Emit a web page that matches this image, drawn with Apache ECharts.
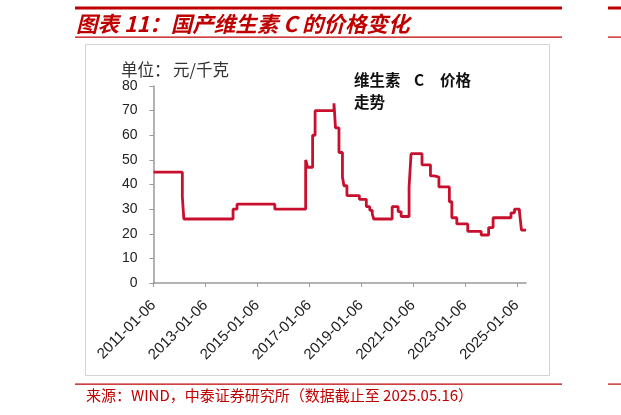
<!DOCTYPE html>
<html>
<head>
<meta charset="utf-8">
<script src="https://cdn.jsdelivr.net/npm/echarts@6/dist/echarts.min.js"></script>
<style>
  html, body { margin:0; padding:0; background:#fff; }
  #myChart { width:621px; height:415px; }
</style>
</head>
<body>
<div id="myChart"></div>
<script>
// 价格变化点（每个日期开始的新价格，元/千克）
var priceDates = [
    '2011-01-06','2012-02-16','2012-03-08','2014-01-30','2014-03-27','2015-09-10',
    '2016-11-17','2016-12-15','2017-02-23','2017-03-30','2017-12-21','2018-01-11',
    '2018-03-01','2018-04-19','2018-05-10','2018-06-21','2018-12-13','2019-03-21',
    '2019-05-09','2019-06-13','2019-07-04','2020-03-19','2020-06-11','2020-07-23',
    '2020-11-12','2020-12-10','2021-05-13','2021-09-09','2021-11-04','2022-01-06',
    '2022-06-02','2022-07-07','2022-09-15','2023-02-16','2023-08-24','2023-12-07',
    '2024-02-08','2024-10-17','2024-12-05','2025-02-13','2025-03-13','2025-05-16'
];
var priceValues = [
    45, 35, 26, 30, 32, 30,
    50, 47, 60, 70, 73, 63,
    53, 43, 39.5, 35.5, 34, 31,
    29.5, 28, 26, 31, 29, 27,
    39, 52.5, 48, 43.5, 43, 39,
    33, 26.5, 24, 21, 19.5, 22.5,
    26.5, 28.5, 30, 29, 21.5, 21.5
];
var tickDates = ['2011-01-06','2013-01-06','2015-01-06','2017-01-06','2019-01-06','2021-01-06','2023-01-06','2025-01-06'];

function localTs(s){
    var p = s.split('-');
    return new Date(+p[0], +p[1]-1, +p[2]).getTime();
}
function fmtDate(v){
    var d = new Date(v);
    var m = d.getMonth()+1, day = d.getDate();
    return d.getFullYear() + '-' + (m<10?'0':'') + m + '-' + (day<10?'0':'') + day;
}
var tickValues = tickDates.map(localTs);
var seriesData = priceDates.map(function(d, i){ return [localTs(d), priceValues[i]]; });

var myChart = echarts.init(document.getElementById('myChart'));
var red = '#c00000';
var cjk = '"Noto Sans CJK SC", sans-serif';
var option = {
    backgroundColor:'#fff',
    animation:false,
    graphic:[
        //------------------页眉
        {type:'rect', shape:{x:75, y:6.5, width:487, height:3}, style:{fill:red}},
        {type:'rect', shape:{x:75, y:36.5, width:487, height:1.2}, style:{fill:red}},
        {type:'rect', shape:{x:608, y:6.5, width:13, height:3}, style:{fill:red}},
        {type:'rect', shape:{x:608, y:36.5, width:13, height:1.2}, style:{fill:red}},
        {type:'text', x:76, y:24, style:{text:'图表 11：国产维生素 C 的价格变化', fill:red,
            font:'italic bold 21.5px ' + cjk, textVerticalAlign:'middle'}},
        //------------------图框
        {type:'rect', shape:{x:85.5, y:44.5, width:464, height:331}, style:{fill:'none', stroke:'#d4d4d4', lineWidth:1}},
        {type:'text', x:121, y:70, style:{text:'单位：', fill:'#333', font:'16.5px ' + cjk, textVerticalAlign:'middle'}},
        {type:'text', x:173, y:70, style:{text:'元/千克', fill:'#333', font:'16.5px ' + cjk, textVerticalAlign:'middle'}},
        {type:'text', x:354, y:80, style:{text:'维生素', fill:'#111', font:'bold 15.5px ' + cjk, textVerticalAlign:'middle'}},
        {type:'text', x:414, y:80, style:{text:'C', fill:'#111', font:'bold 15.5px ' + cjk, textVerticalAlign:'middle'}},
        {type:'text', x:440, y:80, style:{text:'价格', fill:'#111', font:'bold 15.5px ' + cjk, textVerticalAlign:'middle'}},
        {type:'text', x:354, y:102, style:{text:'走势', fill:'#111', font:'bold 15.5px ' + cjk, textVerticalAlign:'middle'}},
        //------------------页脚
        {type:'rect', shape:{x:75, y:383.5, width:487, height:1.2}, style:{fill:red}},
        {type:'rect', shape:{x:608, y:383.5, width:13, height:1.2}, style:{fill:red}},
        {type:'text', x:86, y:395, style:{text:'来源：WIND，中泰证券研究所（数据截止至 2025.05.16）', fill:red,
            font:'15px ' + cjk, textVerticalAlign:'middle'}}
    ],
    grid:{left:153.5, right:95, top:86, bottom:132, containLabel:false},
    xAxis:{
        type:'value',
        min:localTs('2011-01-06'),
        max:localTs('2025-05-16'),
        axisLine:{lineStyle:{color:'#999', width:1.5}},
        axisTick:{show:true, length:4, customValues:tickValues, lineStyle:{color:'#999'}},
        axisLabel:{
            customValues:tickValues,
            rotate:45,
            margin:20,
            color:'#222',
            fontSize:15,
            fontFamily:'Arial, "Liberation Sans", sans-serif',
            formatter:fmtDate
        },
        splitLine:{show:false}
    },
    yAxis:{
        type:'value',
        min:0, max:80, interval:10,
        axisLine:{show:true, lineStyle:{color:'#999', width:1.5}},
        axisTick:{show:true, length:4, inside:false, lineStyle:{color:'#999'}},
        axisLabel:{color:'#222', fontSize:14, margin:16, fontFamily:'Arial, "Liberation Sans", sans-serif'},
        splitLine:{show:false}
    },
    series:[{
        name:'维生素C价格',
        type:'line',
        step:'end',
        showSymbol:false,
        data:seriesData,
        lineStyle:{color:'#c8102e', width:2.8},
        itemStyle:{color:'#c8102e'}
    }]
};
myChart.setOption(option);
</script>
</body>
</html>
